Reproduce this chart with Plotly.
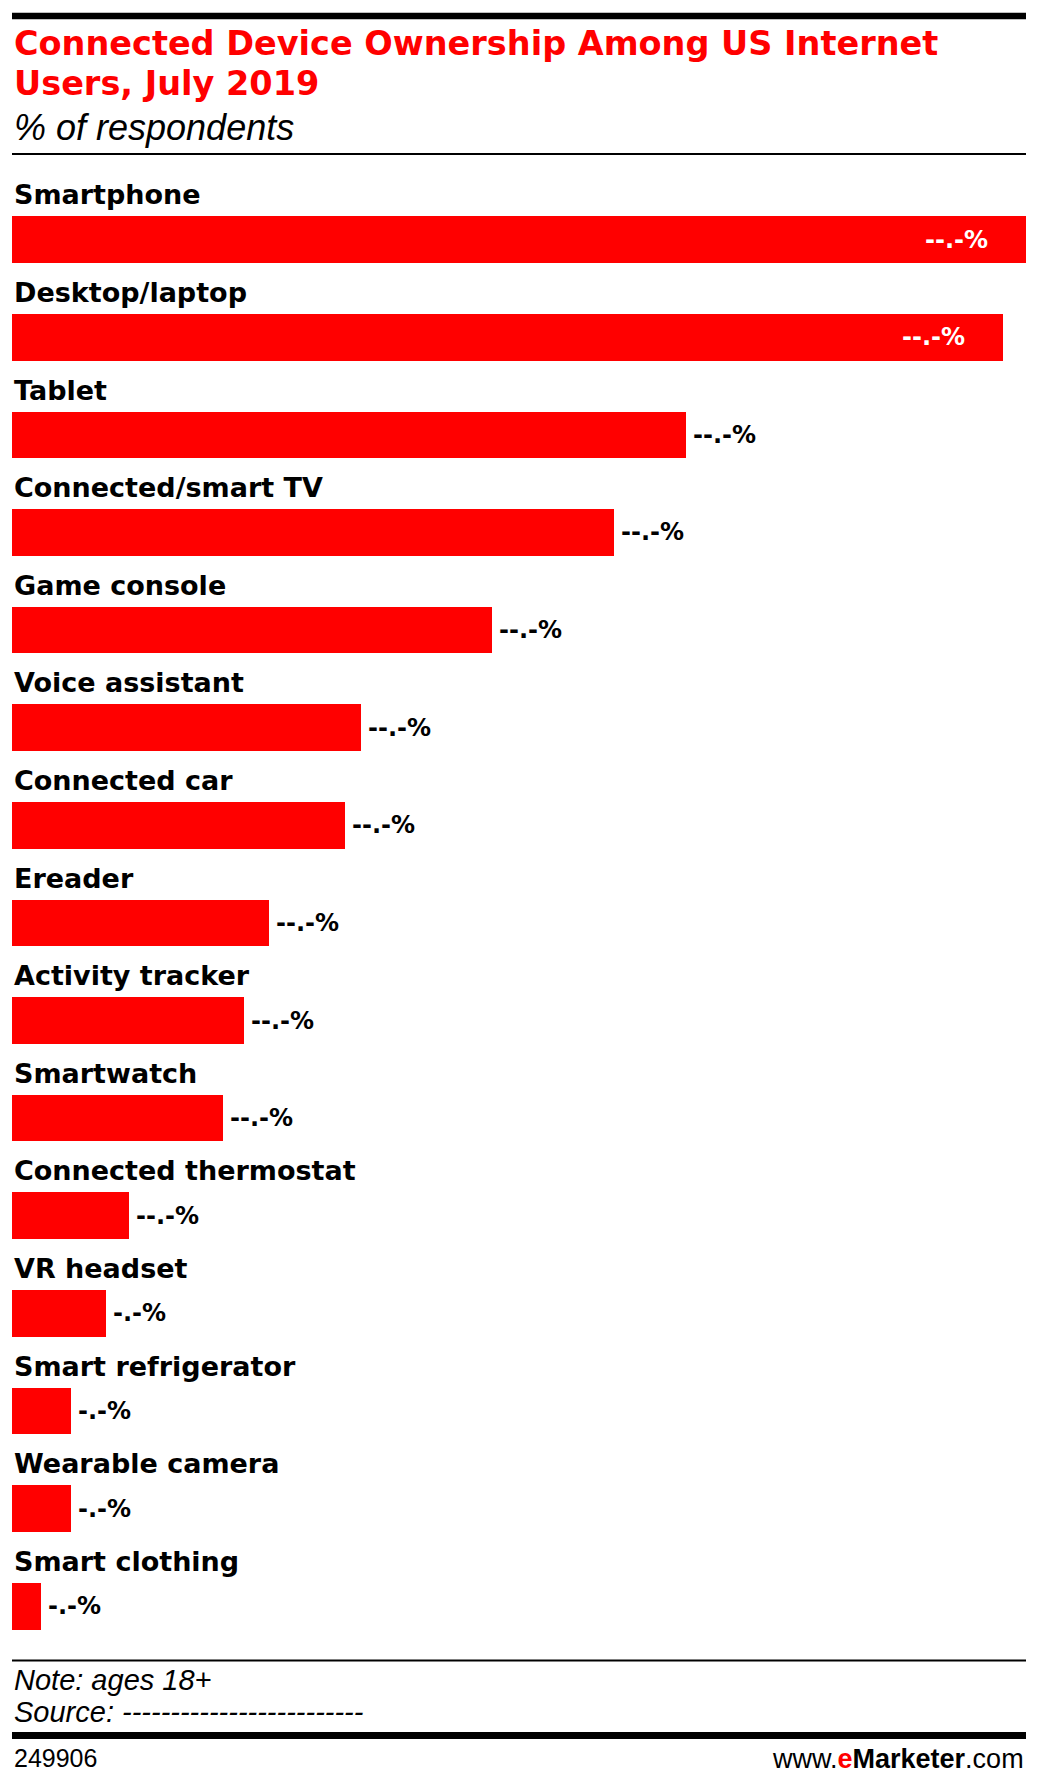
import plotly.graph_objects as go

# data (labels in the source are masked)
categories = ["Smartphone", "Desktop/laptop", "Tablet", "Connected/smart TV",
              "Game console", "Voice assistant", "Connected car", "Ereader",
              "Activity tracker", "Smartwatch", "Connected thermostat",
              "VR headset", "Smart refrigerator", "Wearable camera", "Smart clothing"]
values = [90.0, 88.0, 59.8, 53.4, 42.6, 31.0, 29.6, 22.8, 20.6, 18.7, 10.4, 8.3, 5.2, 5.2, 2.6]
value_labels = ["--.-%" if v >= 10 else "-.-%" for v in values]

title_lines = ["Connected Device Ownership Among US Internet", "Users, July 2019"]
subtitle = "% of respondents"
note = "Note: ages 18+"
source = "Source: -------------------------"
chart_id = "249906"

# the page body has an 8px margin, so the figure is drawn 8px smaller on each side
OFF = 8
W, H = 1038 - 2 * OFF, 1784 - 2 * OFF
ML, MR, MT, MB = 4, 4, 134, 121
PLOT_H = H - MT - MB
PLOT_W = W - ML - MR
RED = "#ff0000"
BAR_W = 0.478
LABEL_FONT = "DejaVu Sans"
TEXT_FONT = "Liberation Sans, Arial"


def py(p):
    # page pixel row -> paper y
    return 1 - (p - OFF - MT) / PLOT_H


def px(p):
    return (p - OFF - ML) / PLOT_W


ypos = list(range(len(categories)))

fig = go.Figure(go.Bar(
    x=values, y=ypos, orientation="h", width=BAR_W,
    marker=dict(color=RED, line=dict(width=0)),
    hoverinfo="skip", showlegend=False,
))

annotations = []
for i, (cat, v, lab) in enumerate(zip(categories, values, value_labels)):
    annotations.append(dict(x=0, y=i - BAR_W / 2, xref="x", yref="y", text=cat,
                            xanchor="left", yanchor="bottom", yshift=4, showarrow=False,
                            font=dict(family=LABEL_FONT, size=27, color="black", weight="bold")))
    inside = v > 80
    annotations.append(dict(x=v, y=i, xref="x", yref="y", text=lab,
                            xanchor="right" if inside else "left", yanchor="middle",
                            xshift=-36 if inside else 5, showarrow=False,
                            font=dict(family=LABEL_FONT, size=24,
                                      color="white" if inside else "black", weight="bold")))


def txt(text, x, y, size, family=TEXT_FONT, color="black", anchor="left", **font):
    return dict(x=px(x), y=py(y), xref="paper", yref="paper", xanchor=anchor, yanchor="top",
                text=text, showarrow=False,
                font=dict(family=family, size=size, color=color, **font))


annotations += [
    txt(title_lines[0], 12, 22, 33.5, LABEL_FONT, RED, weight="bold"),
    txt(title_lines[1], 12, 62, 33.5, LABEL_FONT, RED, weight="bold"),
    txt(subtitle, 12, 105, 36, style="italic"),
    txt(note, 12, 1662, 29, style="italic"),
    txt(source, 12, 1694, 29, style="italic"),
    txt(chart_id, 12, 1742, 25),
    txt("www.<span style='color:#ff0000'><b>e</b></span><b>Marketer</b>.com", 1026, 1742, 27,
        anchor="right"),
]

shapes = []
for y, w in [(16, 6.5), (154, 2), (1660.5, 2), (1735.5, 7)]:
    shapes.append(dict(type="line", xref="paper", yref="paper", x0=0, x1=1,
                       y0=py(y), y1=py(y), line=dict(color="black", width=w)))

fig.update_layout(
    width=W, height=H,
    margin=dict(l=ML, r=MR, t=MT, b=MB, pad=0),
    plot_bgcolor="white", paper_bgcolor="white",
    annotations=annotations, shapes=shapes,
    bargap=0,
)
fig.update_xaxes(range=[0, max(values)], visible=False, fixedrange=True)
fig.update_yaxes(range=[len(categories) - 0.5, -1], visible=False, fixedrange=True)

fig.write_html("out.html")
